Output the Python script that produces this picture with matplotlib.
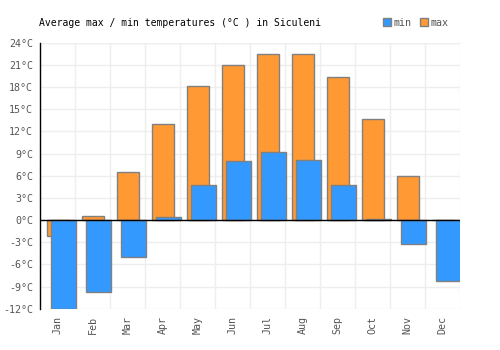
import numpy as np
import matplotlib
matplotlib.use("Agg")
import matplotlib.pyplot as plt
from matplotlib.patches import Patch

months = ['Jan', 'Feb', 'Mar', 'Apr', 'May', 'Jun', 'Jul', 'Aug', 'Sep', 'Oct', 'Nov', 'Dec']
t_max = [-2.2, 0.5, 6.5, 13.0, 18.2, 21.0, 22.5, 22.5, 19.4, 13.7, 5.9, 0.0]
t_min = [-12.0, -9.8, -5.0, 0.4, 4.8, 8.0, 9.2, 8.1, 4.7, 0.1, -3.3, -8.2]
y_ticks = list(range(-12, 25, 3))

blue = '#3399ff'
orange = '#ff9933'
edge = '#808080'

plt.rcParams['font.family'] = ['DejaVu Sans Mono']

fig = plt.figure(figsize=(5, 3.5), dpi=100)
ax = fig.add_axes([0.08, 0.118, 0.84, 0.76])

x = np.arange(len(months))
ax.bar(x - 0.31, t_max, width=0.646, align='edge', color=orange,
       edgecolor=edge, linewidth=1, zorder=3)
ax.bar(x - 0.177, t_min, width=0.70, align='edge', color=blue,
       edgecolor=edge, linewidth=1, zorder=4)

ax.axhline(0, color='black', linewidth=1, zorder=5)

ax.set_xlim(-0.5, 11.5)
ax.set_ylim(-12, 24)
ax.set_yticks(y_ticks)
ax.set_yticklabels(['%d°C' % v for v in y_ticks])
ax.set_xticks(x)
ax.set_xticklabels(months, rotation=90)
ax.set_xticks(x[:-1] + 0.5, minor=True)

ax.grid(True, axis='y', color='#eeeeee', linewidth=1, zorder=0)
ax.grid(True, axis='x', which='minor', color='#eeeeee', linewidth=1, zorder=0)
ax.tick_params(axis='both', which='both', length=0, labelsize=7.2, colors='#555555', pad=5)

for s in ['top', 'right', 'bottom']:
    ax.spines[s].set_visible(False)
ax.spines['left'].set_color('black')
ax.spines['left'].set_linewidth(1)
ax.axvline(11.5, color='#eeeeee', linewidth=1, zorder=0)
ax.axhline(24, color='#eeeeee', linewidth=1, zorder=0)

fig.text(0.078, 0.935, 'Average max / min temperatures (°C ) in Siculeni',
         fontsize=7, color='black', va='center')

handles = [Patch(facecolor=blue, edgecolor=edge, label='min'),
           Patch(facecolor=orange, edgecolor=edge, label='max')]
leg = fig.legend(handles=handles, loc='center right', bbox_to_anchor=(0.905, 0.935),
                 ncol=2, frameon=False, fontsize=7.2, handlelength=0.8, handleheight=0.8,
                 handletextpad=0.3, columnspacing=0.8, borderaxespad=0)
for t in leg.get_texts():
    t.set_color('#555555')

fig.savefig('out.png', dpi=100)
